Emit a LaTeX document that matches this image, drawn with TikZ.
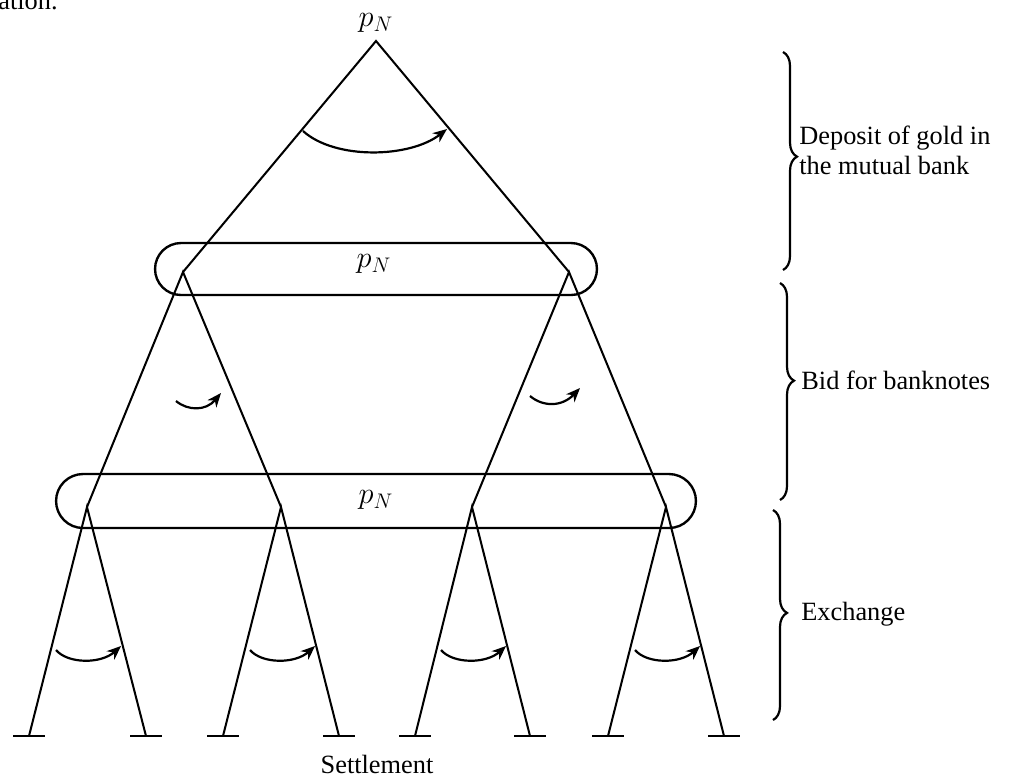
\documentclass[tikz,border=0pt]{standalone}
\usepackage{fontspec}
\setmainfont{Liberation Serif}
\usetikzlibrary{decorations.pathreplacing,arrows.meta}
\begin{document}
\begin{tikzpicture}[x=0.02cm,y=-0.02cm,
  edge/.style={line width=1.15pt},
  bar/.style={line width=1.6pt},
  choice/.style={line width=1.25pt,-{Stealth[length=8pt,width=6.5pt,inset=2.5pt]}},
  infoset/.style={draw,line width=1.35pt,inner sep=0pt},
  lbl/.style={font=\fontsize{15}{17}\selectfont},
  pn/.style={font=\fontsize{17}{19}\selectfont,inner sep=0pt},
  brc/.style={decorate,line width=1.25pt,decoration={brace,amplitude=0.28cm}}]
\useasboundingbox (0,0) rectangle (1023,779);
\clip (0,0) rectangle (1023,779);
% stray text from the page above
\node[lbl,anchor=base west,inner sep=0pt] (frag) at (-2,9) {ation.};
% tree nodes
\coordinate (r) at (376,41);
\coordinate (a1) at (183,272);
\coordinate (a2) at (569,272);
\coordinate (b1) at (87,507);
\coordinate (b2) at (281,507);
\coordinate (b3) at (472,507);
\coordinate (b4) at (666,507);
\foreach \i/\x in {1/29,2/146,3/223,4/339,5/415,6/530,7/608,8/724}
  \coordinate (l\i) at (\x,736);
% information sets and labels
\node[pn] (pr) at (376,23) {$p_N$};
\node[infoset,rounded corners=0.52cm,minimum width=8.84cm,minimum height=1.04cm] (o1) at (376,269) {};
\node[pn] (p1) at (374,264) {$p_N$};
\node[infoset,rounded corners=0.54cm,minimum width=12.8cm,minimum height=1.08cm] (o2) at (376,501) {};
\node[pn] (p2) at (376,500) {$p_N$};
% edges
\draw[edge] (a1) -- (r) -- (a2);
\draw[edge] (b1) -- (a1) -- (b2);
\draw[edge] (b3) -- (a2) -- (b4);
\draw[edge] (l1) -- (b1) -- (l2);
\draw[edge] (l3) -- (b2) -- (l4);
\draw[edge] (l5) -- (b3) -- (l6);
\draw[edge] (l7) -- (b4) -- (l8);
% terminal bars
\foreach \i in {1,...,8}
  \draw[bar] ([xshift=-0.32cm]l\i) -- ([xshift=0.32cm]l\i);
% choice arrows
\coordinate (c0s) at (303,131); \coordinate (c0e) at (447,129);
\draw[choice] (c0s) .. controls (335,160) and (410,158) .. (c0e);
\coordinate (c1s) at (176,401); \coordinate (c1e) at (221,393);
\draw[choice] (c1s) .. controls (188,411) and (206,411) .. (c1e);
\coordinate (c2s) at (530,396); \coordinate (c2e) at (580,388);
\draw[choice] (c2s) .. controls (543,407) and (562,407) .. (c2e);
\foreach \b in {1,2,3,4}{
  \draw[choice] ([shift={(-31,143)}]b\b) .. controls ([shift={(-19,157)}]b\b) and ([shift={(14,157)}]b\b) .. ([shift={(34,139)}]b\b);
}
% braces
\coordinate (t1) at (783,52); \coordinate (u1) at (783,270);
\coordinate (t2) at (780,283); \coordinate (u2) at (780,500);
\coordinate (t3) at (773,510); \coordinate (u3) at (773,720);
\draw[brc,decoration={aspect=0.48}] (t1) -- (u1);
\draw[brc,decoration={aspect=0.45}] (t2) -- (u2);
\draw[brc,decoration={aspect=0.49}] (t3) -- (u3);
\node[lbl,anchor=west,align=left,inner sep=0pt] (d1) at (799,150) {Deposit of gold in\\the mutual bank};
\node[lbl,anchor=west,inner sep=0pt] (d2) at (801,380) {Bid for banknotes};
\node[lbl,anchor=west,inner sep=0pt] (d3) at (801,614) {Exchange};
\node[lbl] (st) at (377,764) {Settlement};
\end{tikzpicture}
\end{document}
